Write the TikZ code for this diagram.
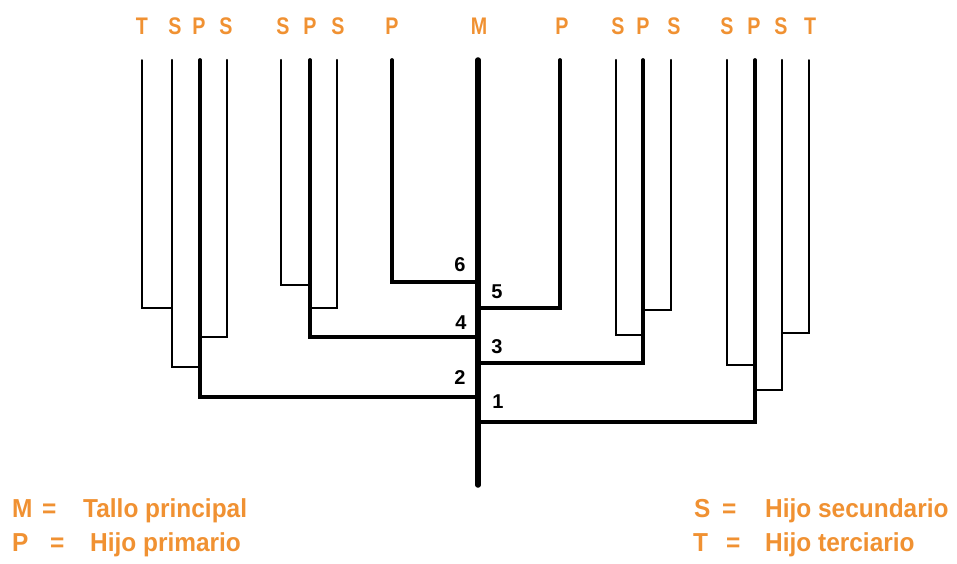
\documentclass[tikz,border=0pt]{standalone}
\usepackage{fontspec}
\setmainfont{Liberation Sans}
\newfontfamily\condfont{Liberation Sans}[FakeStretch=0.82]
\newfontfamily\legfont{Liberation Sans}[FakeStretch=0.94]
\definecolor{lab}{RGB}{240,145,50}
\begin{document}
\begin{tikzpicture}[x=1pt,y=-1pt,
  tlab/.style={anchor=base,text=lab,font=\condfont\bfseries\fontsize{24}{24}\selectfont,inner sep=0pt},
  leg/.style={anchor=base west,text=lab,font=\legfont\bfseries\fontsize{26}{26}\selectfont,inner sep=0pt},
  num/.style={text=black,font=\bfseries\fontsize{20}{20}\selectfont,inner sep=0pt},
  tw/.style={line width=1.5pt,line cap=round,line join=miter},
  sw/.style={line width=2.4pt,line cap=round,line join=miter},
  pw/.style={line width=3.7pt,line cap=round,line join=miter},
  mw/.style={line width=5.5pt,line cap=round}]
\useasboundingbox (0,0) rectangle (957,564);
% tips
\coordinate (T1) at (142,60);
\coordinate (S1) at (172,60);
\coordinate (P1) at (200,60);
\coordinate (S2) at (227,60);
\coordinate (S3) at (281,60);
\coordinate (P2) at (310,60);
\coordinate (S4) at (337,60);
\coordinate (P3) at (392,60);
\coordinate (M)  at (478,60);
\coordinate (Mb) at (478,485);
\coordinate (P4) at (560,60);
\coordinate (S5) at (616,60);
\coordinate (P5) at (643,60);
\coordinate (S6) at (671,60);
\coordinate (S7) at (727,60);
\coordinate (P6) at (755,60);
\coordinate (S8) at (782,60);
\coordinate (T2) at (809,60);
% junctions
\coordinate (jT1) at (172,308);
\coordinate (jS1) at (200,367);
\coordinate (jS2) at (200,337);
\coordinate (jP1) at (478,397);
\coordinate (jS3) at (310,285);
\coordinate (jS4) at (310,308);
\coordinate (jP2) at (478,337);
\coordinate (jP3) at (478,282);
\coordinate (jP4) at (478,308);
\coordinate (jS5) at (643,335);
\coordinate (jS6) at (643,310);
\coordinate (jP5) at (478,363);
\coordinate (jS7) at (755,365);
\coordinate (jT2) at (782,333);
\coordinate (jS8) at (755,390);
\coordinate (jP6) at (478,422);
% branches
\draw[tw] (T1) |- (jT1);
\draw[sw] (S1) |- (jS1);
\draw[sw] (S2) |- (jS2);
\draw[pw] (P1) |- (jP1);
\draw[sw] (S3) |- (jS3);
\draw[sw] (S4) |- (jS4);
\draw[pw] (P2) |- (jP2);
\draw[pw] (P3) |- (jP3);
\draw[pw] (P4) |- (jP4);
\draw[sw] (S5) |- (jS5);
\draw[sw] (S6) |- (jS6);
\draw[pw] (P5) |- (jP5);
\draw[sw] (S7) |- (jS7);
\draw[tw] (T2) |- (jT2);
\draw[sw] (S8) |- (jS8);
\draw[pw] (P6) |- (jP6);
\draw[mw] (M) -- (Mb);
% top labels
\node[tlab] (lT1) at (142,35) {T};
\node[tlab] (lS1) at (175,35) {S};
\node[tlab] (lP1) at (199,35) {P};
\node[tlab] (lS2) at (226,35) {S};
\node[tlab] (lS3) at (283,35) {S};
\node[tlab] (lP2) at (310,35) {P};
\node[tlab] (lS4) at (338,35) {S};
\node[tlab] (lP3) at (392,35) {P};
\node[tlab] (lM)  at (479,35) {M};
\node[tlab] (lP4) at (562,35) {P};
\node[tlab] (lS5) at (618,35) {S};
\node[tlab] (lP5) at (643,35) {P};
\node[tlab] (lS6) at (674,35) {S};
\node[tlab] (lS7) at (727,35) {S};
\node[tlab] (lP6) at (754,35) {P};
\node[tlab] (lS8) at (781,35) {S};
\node[tlab] (lT2) at (810,35) {T};
% numbers
\node[num] (n6) at (460,265) {6};
\node[num] (n4) at (461,323) {4};
\node[num] (n2) at (460,378) {2};
\node[num] (n5) at (497,292) {5};
\node[num] (n3) at (497,347) {3};
\node[num] (n1) at (498,402) {1};
% legend
\node[leg] (kM) at (12,517) {M};
\node[leg] (eM) at (42,517) {=};
\node[leg] (tM) at (83,517) {Tallo principal};
\node[leg] (kP) at (12,551) {P};
\node[leg] (eP) at (50,551) {=};
\node[leg] (tP) at (90,551) {Hijo primario};
\node[leg] (kS) at (694,517) {S};
\node[leg] (eS) at (722,517) {=};
\node[leg] (tS) at (765,517) {Hijo secundario};
\node[leg] (kT) at (693,551) {T};
\node[leg] (eT) at (726,551) {=};
\node[leg] (tT) at (765,551) {Hijo terciario};
\end{tikzpicture}
\end{document}
